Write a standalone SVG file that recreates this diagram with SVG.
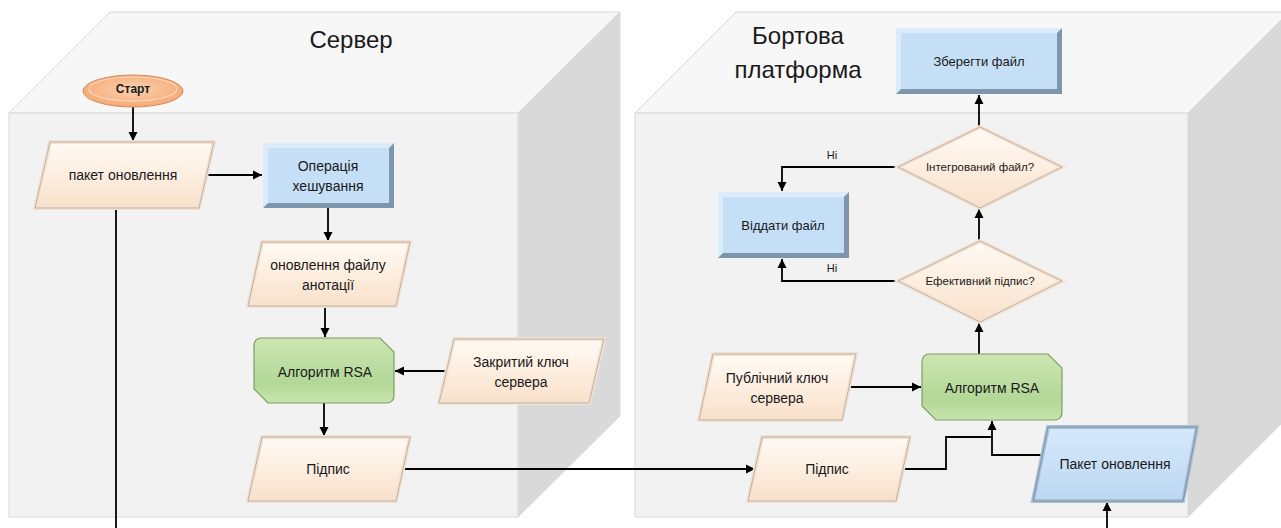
<svg xmlns="http://www.w3.org/2000/svg" width="1281" height="528" viewBox="0 0 1281 528">
<defs>
<linearGradient id="cream" x1="0" y1="0" x2="0" y2="1"><stop offset="0" stop-color="#fffaf4"/><stop offset="0.5" stop-color="#fdeee0"/><stop offset="1" stop-color="#f8e0c9"/></linearGradient>
<linearGradient id="blueg" x1="0" y1="0" x2="0" y2="1"><stop offset="0" stop-color="#d6e8fa"/><stop offset="1" stop-color="#bcd8f3"/></linearGradient>
<linearGradient id="green" x1="0" y1="0" x2="0" y2="1"><stop offset="0" stop-color="#cce6b2"/><stop offset="0.7" stop-color="#b2d796"/><stop offset="1" stop-color="#c8e6ae"/></linearGradient>
<radialGradient id="orange" cx="0.5" cy="0.45" r="0.6"><stop offset="0" stop-color="#fbd3b2"/><stop offset="1" stop-color="#f4a56f"/></radialGradient>
<marker id="ah" viewBox="0 0 10 10" refX="10" refY="5" markerWidth="9" markerHeight="10" markerUnits="userSpaceOnUse" orient="auto"><path d="M0,0 L10,5 L0,10 Z" fill="#000"/></marker>
<style>
.t{font-family:"Liberation Sans",Arial,sans-serif;fill:#1a1a1a;text-anchor:middle}
.n{font-size:14px}
.s{font-size:13px}
.h{font-size:24px}
.face-front{fill:#f2f2f2;stroke:#dadada;stroke-width:1}
.face-top{fill:#f7f7f7;stroke:#dadada;stroke-width:1}
.face-side{fill:#d9d9d9;stroke:#dadada;stroke-width:1}
.pgb{fill:url(#cream);stroke:#f1e2d3;stroke-width:4;stroke-linejoin:miter}
.pgo{fill:none;stroke:#c2b09e;stroke-width:1}
.bpb{fill:url(#blueg);stroke:#a9bfd4;stroke-width:4}
.bpo{fill:none;stroke:#7b91a7;stroke-width:1}
.bdark{fill:#7f95ab}
.blight{fill:#dcebf9}
.binner{fill:#c5dff6}
.grn{fill:url(#green);stroke:#7d9e62;stroke-width:1.2}
.c{fill:none;stroke:#000;stroke-width:1.8}
.ca{fill:none;stroke:#000;stroke-width:1.8;marker-end:url(#ah)}
</style>
</defs>
<rect width="1281" height="528" fill="#fff"/>

<g id="cube-server">
<polygon class="face-top" points="9,113 110,12 620,12 518,113"/>
<polygon class="face-side" points="518,113 620,12 620,416 518,517"/>
<rect class="face-front" x="9" y="113" width="509" height="404"/>
<text class="t h" x="351" y="48">Сервер</text>
</g>

<g id="cube-board">
<polygon class="face-top" points="635,113 736,12 1289,12 1188,113"/>
<polygon class="face-side" points="1188,113 1289,12 1289,416 1188,517"/>
<rect class="face-front" x="635" y="113" width="553" height="404"/>
<text class="t h" x="798" y="44">Бортова</text>
<text class="t h" x="798" y="78">платформа</text>
</g>

<g id="connectors">
<line class="ca" x1="133" y1="107" x2="133" y2="141"/>
<line class="ca" x1="206" y1="175" x2="262" y2="175"/>
<line class="ca" x1="328" y1="208" x2="328" y2="241"/>
<line class="ca" x1="325" y1="306" x2="325" y2="337"/>
<line class="ca" x1="447" y1="371" x2="395" y2="371"/>
<line class="ca" x1="324" y1="403" x2="324" y2="436"/>
<line class="ca" x1="404" y1="469" x2="755" y2="469"/>
<line class="c" x1="116" y1="208" x2="116" y2="528"/>
<line class="ca" x1="1107" y1="528" x2="1107" y2="502"/>
<line class="ca" x1="847" y1="387" x2="921" y2="387"/>
<polyline class="ca" points="899,469 946,469 946,437 992,437 992,421"/>
<polyline class="c" points="1043,455 992,455 992,437"/>
<line class="ca" x1="979" y1="354" x2="979" y2="323"/>
<line class="ca" x1="979" y1="241" x2="979" y2="209"/>
<line class="ca" x1="979" y1="127" x2="979" y2="95"/>
<polyline class="ca" points="898,167 782,167 782,191"/>
<polyline class="ca" points="898,281 782,281 782,259"/>
<text class="t" style="font-size:11px" x="832" y="159">Ні</text>
<text class="t" style="font-size:11px" x="832" y="272">Ні</text>
</g>

<g id="start">
<ellipse cx="133" cy="91" rx="50" ry="16" fill="url(#orange)" stroke="#d9895a" stroke-width="1"/>
<ellipse cx="133" cy="89" rx="44" ry="12" fill="none" stroke="#fbd9bf" stroke-width="1.2"/>
<text class="t" style="font-size:12px;font-weight:bold" x="133" y="93">Старт</text>
</g>

<g id="package">
<polygon class="pgb" points="50,142 214,142 199,208 35,208"/>
<polygon class="pgo" points="50,142 214,142 199,208 35,208"/>
<text class="t n" x="123" y="180">пакет оновлення</text>
</g>

<g id="hashing">
<rect class="bdark" x="263" y="143" width="131" height="65"/>
<polygon class="blight" points="263,143 394,143 389,148 268,148 268,203 263,208"/>
<rect class="binner" x="268" y="148" width="121" height="55"/>
<text class="t n" x="328" y="171">Операція</text>
<text class="t n" x="328" y="191">хешування</text>
</g>

<g id="annotation">
<polygon class="pgb" points="262,242 410,242 396,306 248,306"/>
<polygon class="pgo" points="262,242 410,242 396,306 248,306"/>
<text class="t n" x="328" y="270">оновлення файлу</text>
<text class="t n" x="328" y="290">анотації</text>
</g>

<g id="rsa-server">
<path class="grn" d="M262,338 L380,338 L394,352 L394,395 Q394,403 386,403 L268,403 L254,389 L254,346 Q254,338 262,338 Z"/>
<text class="t n" x="325" y="377">Алгоритм RSA</text>
</g>

<g id="private-key">
<polygon class="pgb" points="454,339 604,339 589,403 439,403"/>
<polygon class="pgo" points="454,339 604,339 589,403 439,403"/>
<text class="t n" x="521" y="367">Закритий ключ</text>
<text class="t n" x="521" y="387">сервера</text>
</g>

<g id="signature-server">
<polygon class="pgb" points="262,437 410,437 396,501 248,501"/>
<polygon class="pgo" points="262,437 410,437 396,501 248,501"/>
<text class="t n" x="328" y="474">Підпис</text>
</g>

<g id="save-file">
<rect class="bdark" x="896" y="28" width="166" height="66"/>
<polygon class="blight" points="896,28 1062,28 1057,33 901,33 901,89 896,94"/>
<rect class="binner" x="901" y="33" width="156" height="56"/>
<text class="t s" x="979" y="66">Зберегти файл</text>
</g>

<g id="integrity">
<polygon class="pgb" points="980,127 1062,167 980,208 898,167"/>
<polygon class="pgo" points="980,127 1062,167 980,208 898,167"/>
<text class="t" style="font-size:11.5px" x="980" y="171">Інтегрований файл?</text>
</g>

<g id="reject-file">
<rect class="bdark" x="718" y="192" width="131" height="66"/>
<polygon class="blight" points="718,192 849,192 844,197 723,197 723,253 718,258"/>
<rect class="binner" x="723" y="197" width="121" height="56"/>
<text class="t s" x="783" y="230">Віддати файл</text>
</g>

<g id="valid-signature">
<polygon class="pgb" points="980,241 1062,281 980,322 898,281"/>
<polygon class="pgo" points="980,241 1062,281 980,322 898,281"/>
<text class="t" style="font-size:11.5px" x="980" y="285">Ефективний підпис?</text>
</g>

<g id="public-key">
<polygon class="pgb" points="713,354 856,354 842,420 699,420"/>
<polygon class="pgo" points="713,354 856,354 842,420 699,420"/>
<text class="t n" x="777" y="383">Публічний ключ</text>
<text class="t n" x="777" y="403">сервера</text>
</g>

<g id="rsa-board">
<path class="grn" d="M930,354 L1048,354 L1062,368 L1062,412 Q1062,420 1054,420 L936,420 L922,406 L922,362 Q922,354 930,354 Z"/>
<text class="t n" x="992" y="393">Алгоритм RSA</text>
</g>

<g id="signature-board">
<polygon class="pgb" points="762,437 910,437 896,501 748,501"/>
<polygon class="pgo" points="762,437 910,437 896,501 748,501"/>
<text class="t n" x="827" y="474">Підпис</text>
</g>

<g id="package-board">
<polygon class="bpb" points="1048,427 1197,427 1183,501 1033,501"/>
<polygon class="bpo" points="1048,427 1197,427 1183,501 1033,501"/>
<text class="t n" x="1115" y="469">Пакет оновлення</text>
</g>
</svg>
